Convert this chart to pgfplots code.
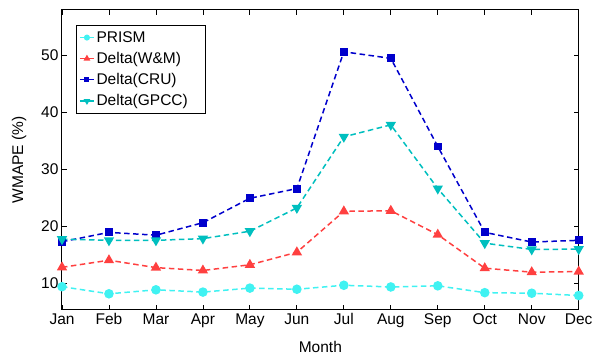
\documentclass[border=0pt]{standalone}
\usepackage{pgfplots}
\pgfplotsset{compat=1.18}
\usepackage{fontspec}
\setmainfont{Liberation Sans}
\definecolor{cprism}{rgb}{0.25,0.95,0.95}
\definecolor{cwm}{rgb}{1,0.25,0.25}
\definecolor{ccru}{rgb}{0,0,0.8}
\definecolor{cgpcc}{rgb}{0,0.75,0.75}
\begin{document}
\begin{tikzpicture}
\begin{axis}[
  scale only axis, width=516.7pt, height=300pt,
  xmin=0, xmax=11, ymin=5.25, ymax=58,
  xtick={0,...,11},
  xticklabels={Jan,Feb,Mar,Apr,May,Jun,Jul,Aug,Sep,Oct,Nov,Dec},
  ytick={10,20,30,40,50},
  tick align=inside, tick pos=both,
  major tick length=5pt,
  axis line style={line width=1pt}, every tick/.style={line width=0.8pt, black},
  font=\fontsize{15.5}{17}\selectfont,
  /pgf/number format/assume math mode=true,
  xlabel={Month}, ylabel={WMAPE (\%)},
  xlabel style={at={(axis description cs:0.5,-0.123)}, anchor=center},
  ylabel style={at={(axis description cs:-0.0832,0.5)}, anchor=center},
  legend style={at={(0.027,0.95)}, anchor=north west, draw=black, line width=0.8pt,
    font=\fontsize{15.5}{17}\selectfont, row sep=4.5pt, inner xsep=3pt, inner ysep=4pt,
    nodes={text width=104pt, align=left}},
  legend cell align=left,
  legend image code/.code={\draw[mark repeat=2,mark phase=2,#1,solid,line width=1.2pt,every mark/.append style={scale=0.6}] plot coordinates {(0pt,0pt)(7pt,0pt)(14pt,0pt)};},
  every axis plot/.append style={line width=1.5pt, dash pattern=on 5.5pt off 3.5pt},
]
\addplot[cprism, mark=*, mark size=4pt, mark options={solid}] coordinates {
(0,9.35)(1,8.1)(2,8.8)(3,8.4)(4,9.1)(5,8.9)(6,9.6)(7,9.3)(8,9.5)(9,8.3)(10,8.2)(11,7.8)};
\addlegendentry{PRISM}
\addplot[cwm, mark=triangle*, mark size=4.5pt, mark options={solid}] coordinates {
(0,12.75)(1,14.0)(2,12.7)(3,12.2)(4,13.2)(5,15.4)(6,22.6)(7,22.7)(8,18.5)(9,12.6)(10,11.9)(11,12.0)};
\addlegendentry{Delta(W\&M)}
\addplot[ccru, mark=square*, mark size=3.2pt, mark options={solid}] coordinates {
(0,17.25)(1,18.9)(2,18.4)(3,20.6)(4,24.9)(5,26.6)(6,50.65)(7,49.5)(8,34.0)(9,18.9)(10,17.2)(11,17.5)};
\addlegendentry{Delta(CRU)}
\addplot[cgpcc, mark=triangle*, mark size=4.5pt, mark options={solid, rotate=180}] coordinates {
(0,17.7)(1,17.5)(2,17.5)(3,17.8)(4,19.1)(5,23.2)(6,35.7)(7,37.8)(8,26.6)(9,17.0)(10,15.9)(11,15.95)};
\addlegendentry{Delta(GPCC)}
\end{axis}
\pgfresetboundingbox
\path ([xshift=-62pt,yshift=-46pt]current axis.south west) rectangle ([xshift=13.3pt,yshift=10pt]current axis.north east);
\end{tikzpicture}
\end{document}
